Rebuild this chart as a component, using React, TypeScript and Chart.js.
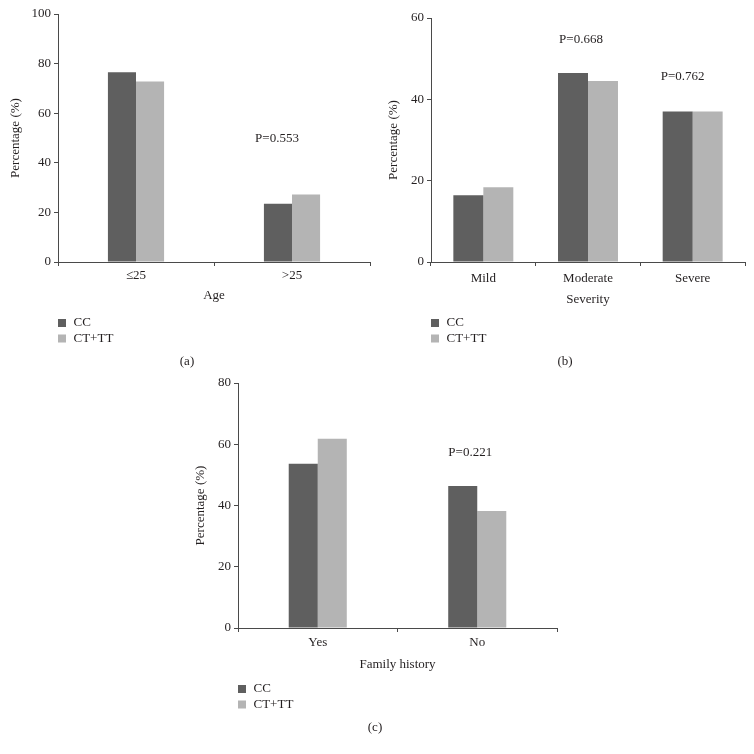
import React, { useEffect, useRef } from "react";
import { Chart, registerables } from "chart.js";

Chart.register(...registerables);

// ---------- data ----------
const seriesNames = ["CC", "CT+TT"];
const seriesColors = ["#5f5f5f", "#b4b4b4"];

const ageCategories = ["≤25", ">25"];
const ageCC = [76.5, 23.5];
const ageCTTT = [72.8, 27.2];

const severityCategories = ["Mild", "Moderate", "Severe"];
const severityCC = [16.4, 46.5, 37.0];
const severityCTTT = [18.4, 44.5, 37.0];

const familyCategories = ["Yes", "No"];
const familyCC = [53.6, 46.4];
const familyCTTT = [61.8, 38.2];

const ageYMax = 100;
const severityYMax = 60;
const familyYMax = 80;
const yStep = 20;

// p-value annotations: category index + value on y scale
const ageNotes = [{ text: "P=0.553", category: 1, value: 49.6, dx: -15 }];
const severityNotes = [
  { text: "P=0.668", category: 1, value: 54.7, dx: -7 },
  { text: "P=0.762", category: 2, value: 45.6, dx: -10 },
];
const familyNotes = [{ text: "P=0.221", category: 1, value: 57.3, dx: -7 }];

// ---------- styles ----------
const FONT = "'Liberation Serif', 'Times New Roman', serif";
const TEXT = "#231f20";
const AXIS = "#4a4a4a";

Chart.defaults.font.family = FONT;
Chart.defaults.font.size = 13;
Chart.defaults.color = TEXT;

const overlayPlugin = {
  id: "overlay",
  afterDraw(chart: any, _args: any, opts: any) {
    const ctx = chart.ctx;
    const { left, bottom } = chart.chartArea;
    ctx.save();
    ctx.font = `13px ${FONT}`;
    ctx.textBaseline = "middle";
    (opts.notes || []).forEach((n: any) => {
      const x = chart.scales.x.getPixelForValue(n.category) + n.dx;
      const y = chart.scales.y.getPixelForValue(n.value);
      ctx.fillStyle = TEXT;
      ctx.textAlign = "center";
      ctx.fillText(n.text, x, y);
    });
    chart.data.datasets.forEach((ds: any, i: number) => {
      const y = bottom + 61 + i * 15.5;
      ctx.fillStyle = ds.backgroundColor;
      ctx.fillRect(left, y - 4, 8, 8);
      ctx.fillStyle = TEXT;
      ctx.textAlign = "left";
      ctx.fillText(ds.label, left + 15.5, y);
    });
    ctx.textAlign = "center";
    ctx.fillStyle = TEXT;
    ctx.fillText(opts.panel, opts.panelX, bottom + 99.7);
    ctx.restore();
  },
};

type PanelProps = {
  left: number;
  top: number;
  width: number;
  height: number;
  categories: string[];
  cc: number[];
  cttt: number[];
  yMax: number;
  xTitle: string;
  notes: any[];
  panel: string;
  panelX: number;
  pad: { left: number; top: number; right: number; bottom: number };
  yWidth: number;
  xHeight: number;
  yTitlePad: number;
  xTickPad: number;
  xTitlePad: number;
  catPct: number;
};

function Panel(p: PanelProps) {
  const ref = useRef<HTMLCanvasElement>(null);
  useEffect(() => {
    if (!ref.current) return;
    const chart = new Chart(ref.current, {
      type: "bar",
      data: {
        labels: p.categories,
        datasets: [
          { label: seriesNames[0], data: p.cc, backgroundColor: seriesColors[0], borderWidth: 0 },
          { label: seriesNames[1], data: p.cttt, backgroundColor: seriesColors[1], borderWidth: 0 },
        ],
      },
      options: {
        responsive: false,
        animation: false,
        devicePixelRatio: 1,
        layout: { padding: p.pad },
        datasets: { bar: { categoryPercentage: p.catPct, barPercentage: 1 } },
        plugins: {
          legend: { display: false },
          tooltip: { enabled: false },
          overlay: { notes: p.notes, panel: p.panel, panelX: p.panelX },
        } as any,
        scales: {
          x: {
            grid: {
              display: true,
              drawOnChartArea: false,
              drawTicks: true,
              tickLength: 4,
              color: AXIS,
              offset: true,
            },
            border: { display: true, color: AXIS, width: 1 },
            ticks: { padding: p.xTickPad, color: TEXT, font: { size: 13, family: FONT } },
            title: {
              display: true,
              text: p.xTitle,
              color: TEXT,
              font: { size: 13, family: FONT },
              padding: { top: 0, bottom: p.xTitlePad },
            },
            afterFit: (s: any) => {
              s.height = p.xHeight;
            },
          },
          y: {
            min: 0,
            max: p.yMax,
            grid: {
              display: true,
              drawOnChartArea: false,
              drawTicks: true,
              tickLength: 4,
              color: AXIS,
            },
            border: { display: true, color: AXIS, width: 1 },
            ticks: { stepSize: yStep, padding: 3, color: TEXT, font: { size: 13, family: FONT } },
            title: {
              display: true,
              text: "Percentage (%)",
              color: TEXT,
              font: { size: 13, family: FONT },
              padding: { top: p.yTitlePad, bottom: 0 },
            },
            afterFit: (s: any) => {
              s.width = p.yWidth;
            },
          },
        },
      },
      plugins: [overlayPlugin],
    });
    return () => chart.destroy();
  }, []);
  return (
    <canvas
      ref={ref}
      width={p.width}
      height={p.height}
      style={{ position: "absolute", left: p.left, top: p.top, width: p.width, height: p.height }}
    />
  );
}

export default function App() {
  return (
    <div
      style={{
        position: "absolute",
        left: 0,
        top: 0,
        width: 754,
        height: 754,
        background: "#ffffff",
        overflow: "hidden",
      }}
    >
      <Panel
        left={0}
        top={0}
        width={377}
        height={377}
        categories={ageCategories}
        cc={ageCC}
        cttt={ageCTTT}
        yMax={ageYMax}
        xTitle="Age"
        notes={ageNotes}
        panel="(a)"
        panelX={187}
        pad={{ left: 0, top: 14, right: 7, bottom: 73 }}
        yWidth={58}
        xHeight={42}
        yTitlePad={8}
        xTickPad={2}
        xTitlePad={1}
        catPct={0.36}
      />
      <Panel
        left={377}
        top={0}
        width={377}
        height={377}
        categories={severityCategories}
        cc={severityCC}
        cttt={severityCTTT}
        yMax={severityYMax}
        xTitle="Severity"
        notes={severityNotes}
        panel="(b)"
        panelX={188}
        pad={{ left: 0, top: 18, right: 9, bottom: 70 }}
        yWidth={54}
        xHeight={45}
        yTitlePad={9}
        xTickPad={5}
        xTitlePad={0}
        catPct={0.573}
      />
      <Panel
        left={180}
        top={370}
        width={384}
        height={384}
        categories={familyCategories}
        cc={familyCC}
        cttt={familyCTTT}
        yMax={familyYMax}
        xTitle="Family history"
        notes={familyNotes}
        panel="(c)"
        panelX={195}
        pad={{ left: 0, top: 13, right: 7, bottom: 82 }}
        yWidth={58}
        xHeight={44}
        yTitlePad={13}
        xTickPad={3}
        xTitlePad={0}
        catPct={0.364}
      />
    </div>
  );
}
